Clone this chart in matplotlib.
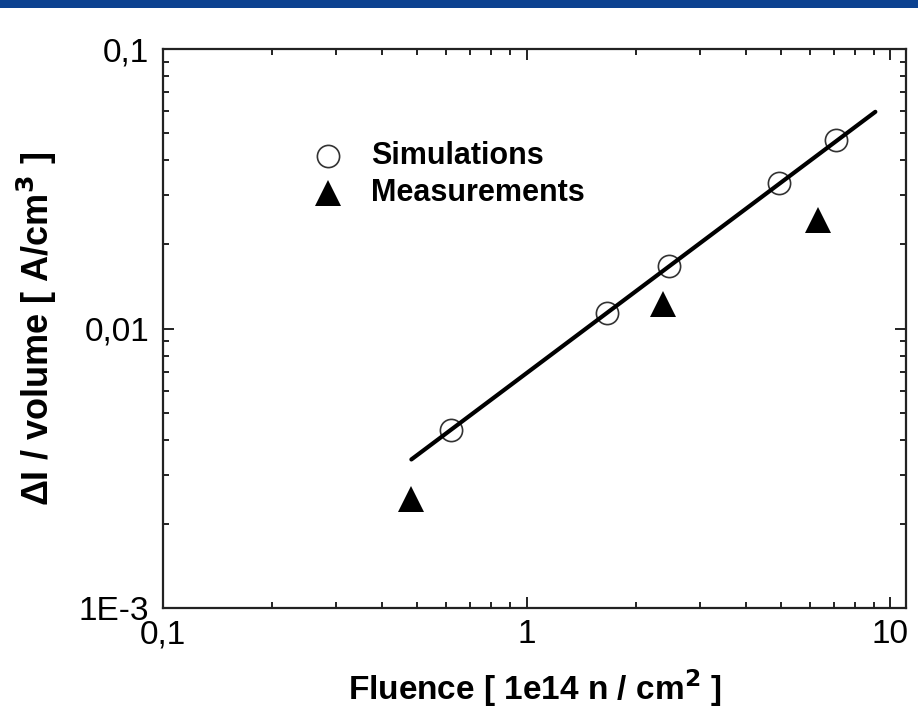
import matplotlib
matplotlib.use("Agg")
import matplotlib.pyplot as plt
from matplotlib.patches import Rectangle
from matplotlib.ticker import LogLocator, FixedLocator, FixedFormatter, NullFormatter

plt.rcParams['font.family'] = ['Liberation Sans', 'DejaVu Sans']

# Simulated leakage current per volume vs fluence
sim_fluence = [0.62, 1.66, 2.46, 4.95, 7.10]
sim_current = [0.00432, 0.0114, 0.0168, 0.0332, 0.0473]

# Measured values
meas_fluence = [0.482, 2.37, 6.34]
meas_current = [0.00245, 0.0122, 0.0245]

# Linear fit line (end points)
fit_fluence = [0.482, 9.1]
fit_current = [0.0034, 0.0596]

x_ticks = [0.1, 1, 10]
x_tick_labels = ["0,1", "1", "10"]
y_ticks = [0.001, 0.01, 0.1]
y_tick_labels = ["1E-3", "0,01", "0,1"]

fig = plt.figure(figsize=(9.18, 7.2), dpi=100)
fig.patch.set_facecolor("white")

# Slide header band
fig.add_artist(Rectangle((0, 1 - 8 / 720), 1, 8 / 720, transform=fig.transFigure,
                         facecolor="#0c4290", edgecolor="none"))

ax = fig.add_axes([163 / 918, 1 - 608 / 720, (906 - 163) / 918, (608 - 49) / 720])
ax.set_xscale("log")
ax.set_yscale("log")
ax.set_xlim(0.1, 11.05)
ax.set_ylim(0.001, 0.1)

ax.plot(sim_fluence, sim_current, linestyle="none", marker="o", markersize=16,
        markerfacecolor="none", markeredgecolor="#333333", markeredgewidth=1.2, zorder=3)
ax.plot(fit_fluence, fit_current, color="black", linewidth=3.0,
        solid_capstyle="round", zorder=4)
ax.plot(meas_fluence, meas_current, linestyle="none", marker="^", markersize=19,
        markerfacecolor="black", markeredgecolor="black", markeredgewidth=0, zorder=3)

# Legend drawn in axes coordinates
lx_marker, lx_text = (328 - 163) / 743, (371 - 163) / 743
ly1, ly2 = (608 - 156) / 559, (608 - 193) / 559
ax.plot([lx_marker], [ly1], transform=ax.transAxes, marker="o", markersize=16,
        markerfacecolor="none", markeredgecolor="#333333", markeredgewidth=1.2, clip_on=False)
ax.plot([lx_marker], [ly2], transform=ax.transAxes, marker="^", markersize=19,
        markerfacecolor="black", markeredgewidth=0, clip_on=False)
ax.text(lx_text, ly1, "Simulations", transform=ax.transAxes, fontsize=22,
        fontweight="bold", va="center", ha="left")
ax.text(lx_text, ly2, "Measurements", transform=ax.transAxes, fontsize=22,
        fontweight="bold", va="center", ha="left")

ax.xaxis.set_major_locator(FixedLocator(x_ticks))
ax.xaxis.set_major_formatter(FixedFormatter(x_tick_labels))
ax.yaxis.set_major_locator(FixedLocator(y_ticks))
ax.yaxis.set_major_formatter(FixedFormatter(y_tick_labels))
ax.xaxis.set_minor_locator(LogLocator(base=10, subs=range(2, 10)))
ax.yaxis.set_minor_locator(LogLocator(base=10, subs=range(2, 10)))
ax.xaxis.set_minor_formatter(NullFormatter())
ax.yaxis.set_minor_formatter(NullFormatter())

ax.tick_params(which="both", direction="in", top=True, right=True, width=1.4, color="#222222")
ax.tick_params(which="major", length=8, labelsize=24)
ax.tick_params(axis="x", which="major", pad=8)
ax.tick_params(axis="y", which="major", pad=10)
ax.tick_params(which="minor", length=4)
for s in ax.spines.values():
    s.set_linewidth(1.6)
    s.set_color("#222222")

ax.set_xlabel("Fluence [ 1e14 n / cm$^\\mathbf{2}$ ]", fontsize=24, fontweight="bold", labelpad=12)
ax.set_ylabel("\u0394I / volume [ A/cm$^\\mathbf{3}$ ]", fontsize=26, fontweight="bold", labelpad=14)

fig.savefig("out.png", dpi=100)
